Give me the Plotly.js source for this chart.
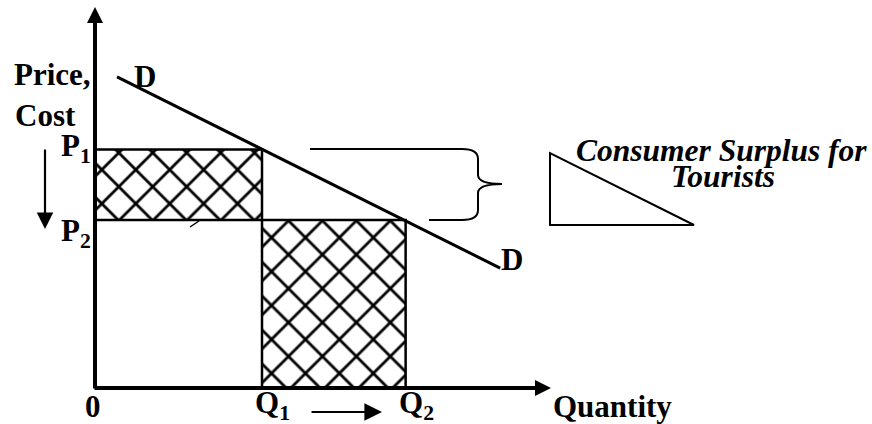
<!DOCTYPE html>
<html><head><meta charset="utf-8">
<script src="https://cdn.plot.ly/plotly-3.0.1.min.js"></script>
<style>html,body{margin:0;padding:0;background:#fff;}#chart{width:872px;height:424px;}</style>
</head><body><div id="chart"></div>
<script>
// ---------------- data ----------------
const quantityLevels = [5.0, 9.3];          // Q1, Q2
const priceLevels = [7.1, 5.0];             // P1, P2
const demandX = [0.66, 12.13];
const demandY = [9.26, 3.57];
const quantityLabels = ['Q<sub>1</sub>', 'Q<sub>2</sub>'];
const priceLabels = ['P<sub>1</sub>', 'P<sub>2</sub>'];
const demandLabel = 'D';
const originLabel = '0';
const xAxisTitle = 'Quantity';
const yAxisTitleLines = ['Price,', 'Cost'];
const noteLines = ['Consumer Surplus for', 'Tourists'];

// ---------------- frame ----------------
const W = 872, H = 424;
const OX = 95, OY = 388;        // pixel position of the origin
const XU = 33.4, YU = 33.6;     // pixels per unit
const xRange = [-OX / XU, (W - OX) / XU];
const yRange = [-(H - OY) / YU, OY / YU];
const px = v => v / W;
const py = v => 1 - v / H;
const dx = v => (v - OX) / XU;
const dy = v => (OY - v) / YU;
const pathPx = pts => pts.map(p => px(p[0]).toFixed(5) + ',' + py(p[1]).toFixed(5)).join(' ');

const FONT = '"Liberation Serif", "Times New Roman", serif';
const boldFont = {family: FONT, size: 31, color: '#000', weight: 'bold'};
const noteFont = {family: FONT, size: 31.5, color: '#000', weight: 'bold', style: 'italic'};

const [Q1, Q2] = quantityLevels;
const [P1, P2] = priceLevels;

const hatch = {shape: 'x', size: 24, solidity: 0.22, fgcolor: '#000', bgcolor: '#fff', fillmode: 'replace'};

const traces = [
  { // area Q1 x (P1 - P2)
    x: [0, Q1, Q1, 0, 0], y: [P2, P2, P1, P1, P2],
    mode: 'lines', fill: 'toself', fillcolor: '#fff', fillpattern: hatch,
    line: {color: '#000', width: 2.5}, hoverinfo: 'skip', showlegend: false
  },
  { // area (Q2 - Q1) x P2
    x: [Q1, Q2, Q2, Q1, Q1], y: [0, 0, P2, P2, 0],
    mode: 'lines', fill: 'toself', fillcolor: '#fff', fillpattern: hatch,
    line: {color: '#000', width: 2.5}, hoverinfo: 'skip', showlegend: false
  },
  { // demand curve
    x: demandX, y: demandY, mode: 'lines',
    line: {color: '#000', width: 3}, hoverinfo: 'skip', showlegend: false
  }
];

const shapes = [
  { // curly bracket
    type: 'path', xref: 'paper', yref: 'paper',
    path: 'M' + pathPx([[310,149]]) + ' L' + pathPx([[462,149]]) +
          ' Q' + pathPx([[478,149],[478,159]]) + ' L' + pathPx([[478,175]]) +
          ' Q' + pathPx([[478,184],[502,184]]) +
          ' Q' + pathPx([[478,184],[478,193]]) + ' L' + pathPx([[478,210]]) +
          ' Q' + pathPx([[478,220],[462,220]]) + ' L' + pathPx([[429,220]]),
    line: {color: '#000', width: 2}
  },
  { // triangle icon
    type: 'path', xref: 'paper', yref: 'paper',
    path: 'M' + pathPx([[550,153]]) + ' L' + pathPx([[550,225]]) + ' L' + pathPx([[694,225]]) + ' Z',
    line: {color: '#000', width: 2}
  },
  { // small stray stroke
    type: 'line', xref: 'paper', yref: 'paper',
    x0: px(190), y0: py(227), x1: px(199), y1: py(221),
    line: {color: '#000', width: 1.5}
  }
];

const arrow = (o) => Object.assign({text: '', showarrow: true, arrowcolor: '#000', standoff: 0, startstandoff: 0}, o);
const label = (o) => Object.assign({showarrow: false, borderpad: 0, borderwidth: 0}, o);

const annotations = [
  // axes
  arrow({x: dx(551), y: 0, ax: dx(93), ay: 0, axref: 'x', ayref: 'y', arrowhead: 2, arrowwidth: 4, arrowsize: 0.8}),
  arrow({x: 0, y: dy(7), ax: 0, ay: dy(390), axref: 'x', ayref: 'y', arrowhead: 2, arrowwidth: 4, arrowsize: 0.8}),
  // price fall arrow
  arrow({xref: 'paper', yref: 'paper', x: px(45), y: py(229), ax: 0, ay: -81, axref: 'pixel', ayref: 'pixel', arrowhead: 2, arrowwidth: 2.2, arrowsize: 1.5}),
  // quantity rise arrow
  arrow({xref: 'paper', yref: 'paper', x: px(382), y: py(412), ax: -72, ay: 0, axref: 'pixel', ayref: 'pixel', arrowhead: 2, arrowwidth: 2.2, arrowsize: 1.6}),
  // price labels
  label({x: 0, y: P1, text: priceLabels[0], xanchor: 'right', yanchor: 'middle', xshift: -4, yshift: 1, font: boldFont}),
  label({x: 0, y: P2, text: priceLabels[1], xanchor: 'right', yanchor: 'middle', xshift: -4, yshift: -13, font: boldFont}),
  // quantity labels
  label({x: 0, y: 0, text: originLabel, xanchor: 'center', yanchor: 'middle', xshift: -2, yshift: -18, font: boldFont}),
  label({x: Q1, y: 0, text: quantityLabels[0], xanchor: 'center', yanchor: 'middle', xshift: 10, yshift: -17, font: boldFont}),
  label({x: Q2, y: 0, text: quantityLabels[1], xanchor: 'center', yanchor: 'middle', xshift: 11, yshift: -17, font: boldFont}),
  // demand labels
  label({x: demandX[0], y: demandY[0], text: demandLabel, xanchor: 'center', yanchor: 'middle', xshift: 28, yshift: 0, font: boldFont}),
  label({x: demandX[1], y: demandY[1], text: demandLabel, xanchor: 'center', yanchor: 'middle', xshift: 12, yshift: 9, font: boldFont}),
  // axis titles
  label({xref: 'paper', yref: 'paper', x: px(553), y: py(406), text: xAxisTitle, xanchor: 'left', yanchor: 'middle', font: boldFont}),
  label({xref: 'paper', yref: 'paper', x: px(14), y: py(75), text: yAxisTitleLines[0], xanchor: 'left', yanchor: 'middle', font: boldFont}),
  label({xref: 'paper', yref: 'paper', x: px(15), y: py(115), text: yAxisTitleLines[1], xanchor: 'left', yanchor: 'middle', font: boldFont}),
  // note
  label({xref: 'paper', yref: 'paper', x: px(721), y: py(150), text: noteLines[0], xanchor: 'center', yanchor: 'middle', font: noteFont}),
  label({xref: 'paper', yref: 'paper', x: px(723), y: py(176), text: noteLines[1], xanchor: 'center', yanchor: 'middle', font: noteFont})
];

const hiddenAxis = {showgrid: false, zeroline: false, showline: false, showticklabels: false, ticks: '', fixedrange: true};

const layout = {
  width: W, height: H,
  margin: {l: 0, r: 0, t: 0, b: 0, pad: 0},
  paper_bgcolor: '#fff', plot_bgcolor: '#fff',
  xaxis: Object.assign({range: xRange}, hiddenAxis),
  yaxis: Object.assign({range: yRange}, hiddenAxis),
  shapes: shapes,
  annotations: annotations,
  showlegend: false
};

Plotly.newPlot('chart', traces, layout, {displayModeBar: false, staticPlot: true});
</script>
</body></html>
